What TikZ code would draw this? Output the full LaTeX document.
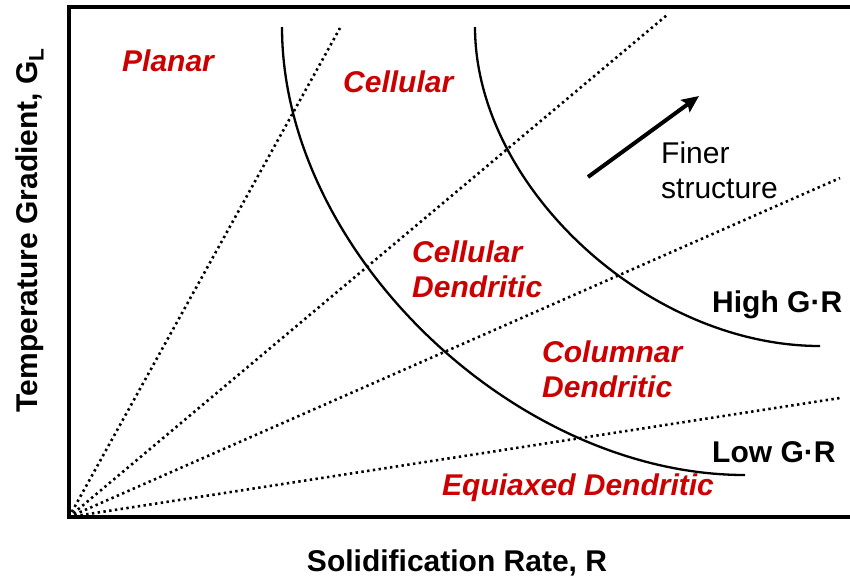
\documentclass[tikz,border=0pt]{standalone}
\usepackage{fontspec}
\setmainfont{Liberation Sans}
\usepackage{xcolor}
\definecolor{phasered}{rgb}{0.80,0.0,0.0}
\usetikzlibrary{arrows.meta,positioning}

\begin{document}
\begin{tikzpicture}[x=1pt, y=-1pt,
      axisline/.style={line width=3.8pt},
      bound/.style={line width=2.3pt},
      ratio/.style={line width=2.6pt, dash pattern=on 2.4pt off 3.4pt},
      phase/.style={inner sep=0pt, text=phasered, align=left,
                    font=\fontsize{30}{35}\selectfont\bfseries\itshape},
      grlabel/.style={inner sep=0pt, font=\fontsize{30}{35}\selectfont\bfseries},
      note/.style={inner sep=0pt, align=left, font=\fontsize{30}{35}\selectfont},
      axistitle/.style={inner sep=0pt, font=\fontsize{30}{35}\selectfont\bfseries},
      arr/.style={-{Stealth[length=17pt, width=15pt, inset=3pt]}, line width=4pt}
  ]
    \useasboundingbox (0,0) rectangle (850,582);

    \coordinate (o) at (69,517);
    \coordinate (topR) at (850,7);
    \coordinate (botR) at (850,517);
    \draw[axisline] (topR) -| (o) -- (botR);

    \coordinate (r1) at (340,28);
    \coordinate (r2) at (667,15);
    \coordinate (r3) at (840,178);
    \coordinate (r4) at (840,398);
    \foreach \r in {r1,r2,r3,r4}
      \draw[ratio] (o) -- (\r);

    \coordinate (lowA) at (282,27);
    \coordinate (lowB) at (745,475);
    \coordinate (highA) at (475,27);
    \coordinate (highB) at (820,346);
    \draw[bound] (lowA) .. controls (282,251) and (514,475) .. (lowB);
    \draw[bound] (highA) .. controls (475,186) and (647,346) .. (highB);

    \node[phase, anchor=base west] (planar) at (122,71) {Planar};
    \node[phase, anchor=base west] (cell) at (343,92) {Cellular};
    \node[phase, anchor=west] (celldend) at (412,269) {Cellular\\Dendritic};
    \node[phase, anchor=west] (coldend) at (542,369) {Columnar\\Dendritic};
    \node[phase, anchor=base west] (equi) at (442,495) {Equiaxed Dendritic};

    \node[grlabel, anchor=base west] (high) at (712,312) {High G·R};
    \node[grlabel, anchor=base west] (low) at (712,462) {Low G·R};

    \coordinate (fineA) at (588,177);
    \coordinate (fineB) at (699,96);
    \draw[arr] (fineA) -- (fineB);
    \node[note, anchor=west] (finer) at (661,170) {Finer\\structure};

    \node[axistitle] (xlab) at (457,563) {Solidification Rate, R};
    \node[axistitle, rotate=90] (ylab) at (30,230) {Temperature Gradient, G\textsubscript{L}};
  \end{tikzpicture}
\end{document}
